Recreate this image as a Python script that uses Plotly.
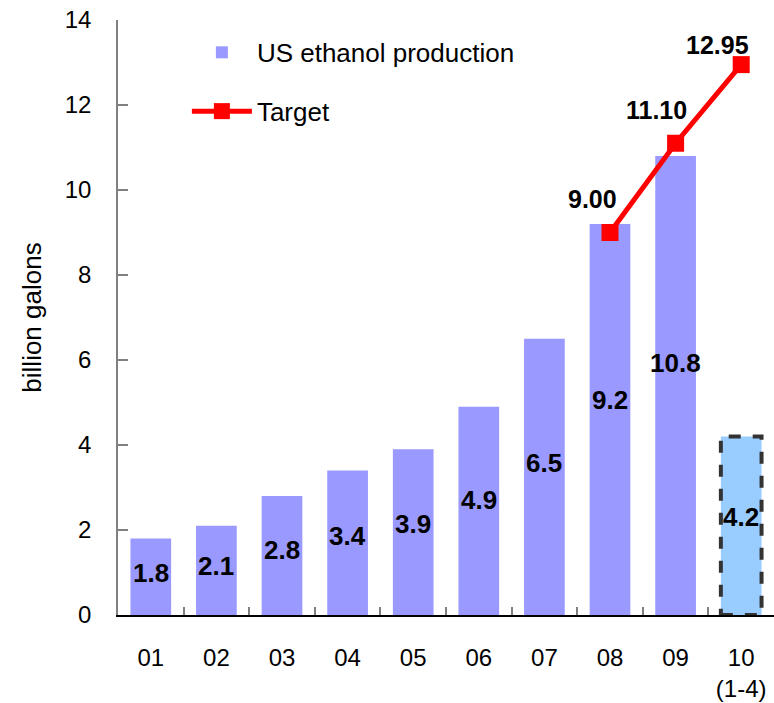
import plotly.graph_objects as go

# US ethanol production by year (billion gallons); the last year covers Jan-Apr only
years = ["01", "02", "03", "04", "05", "06", "07", "08", "09", "10"]
year_labels = ["01", "02", "03", "04", "05", "06", "07", "08", "09", "10<br>(1-4)"]
production = [1.8, 2.1, 2.8, 3.4, 3.9, 4.9, 6.5, 9.2, 10.8, 4.2]

# Mandated target volumes
target_years = ["08", "09", "10"]
target = [9.00, 11.10, 12.95]

FONT = "Arial, Liberation Sans, sans-serif"
BAR_W = 0.62
LABEL_FRAC = 0.55  # bar value labels sit a little above the bar's mid-height

bar_colors = ["#9999FF"] * (len(years) - 1) + ["#99CCFF"]

fig = go.Figure()

fig.add_trace(go.Bar(
    x=years,
    y=production,
    width=BAR_W,
    name="US ethanol production",
    marker=dict(color=bar_colors, line=dict(width=0)),
    legendgroup="a",
    hoverinfo="skip",
))

fig.add_trace(go.Scatter(
    x=target_years,
    y=target,
    name="Target",
    mode="lines+markers",
    line=dict(color="#FF0000", width=5),
    marker=dict(symbol="square", size=17, color="#FF0000"),
    legendgroup="b",
    hoverinfo="skip",
))

# Value labels inside the bars
for i, v in enumerate(production):
    fig.add_annotation(
        x=i, y=v * LABEL_FRAC, text=f"{v:.1f}", showarrow=False,
        font=dict(family=FONT, size=26, color="black", weight="bold"),
    )

# Value labels for the target points, set up and to the left of each marker
label_shifts = [(-18, 34), (-19, 33), (-24, 20)]
for (xv, yv), (dx, dy) in zip(zip(target_years, target), label_shifts):
    fig.add_annotation(
        x=years.index(xv), y=yv, text=f"{yv:.2f}", showarrow=False,
        xshift=dx, yshift=dy,
        font=dict(family=FONT, size=25, color="black", weight="bold"),
    )

# Dashed outline on the partial-year bar
last = len(years) - 1
fig.add_shape(
    type="rect", xref="x", yref="y",
    x0=last - BAR_W / 2, x1=last + BAR_W / 2,
    y0=0, y1=production[last],
    line=dict(color="#333333", width=4, dash="dash"),
    fillcolor="rgba(0,0,0,0)",
)

fig.update_layout(
    width=774, height=703,
    margin=dict(l=118, r=0, t=20, b=88),
    paper_bgcolor="white",
    plot_bgcolor="white",
    font=dict(family=FONT, size=24, color="black"),
    bargap=1 - BAR_W,
    showlegend=True,
    legend=dict(
        x=0.105, y=0.985, xanchor="left", yanchor="top",
        bgcolor="rgba(0,0,0,0)",
        font=dict(family=FONT, size=26, color="black"),
        traceorder="grouped",
        tracegroupgap=22,
        itemwidth=60,
    ),
)

fig.update_xaxes(
    type="category",
    tickvals=years,
    ticktext=year_labels,
    showline=True, linecolor="black", linewidth=1.5,
    ticks="inside", tickson="boundaries", ticklen=8,
    tickcolor="#808080", tickwidth=1.5,
    tickfont=dict(family=FONT, size=24, color="black"),
    ticklabelstandoff=20,
    showgrid=False, zeroline=False,
    range=[-0.5, len(years) - 0.5],
)

fig.update_yaxes(
    range=[0, 14], dtick=2,
    showline=True, linecolor="#808080", linewidth=1.5,
    ticks="inside", ticklen=10, tickcolor="#808080", tickwidth=1.5,
    tickfont=dict(family=FONT, size=24, color="black"),
    ticklabelstandoff=20,
    showgrid=False, zeroline=False,
    title=dict(text="billion galons",
               font=dict(family=FONT, size=26, color="black"),
               standoff=16),
)

fig.write_html("out.html")
